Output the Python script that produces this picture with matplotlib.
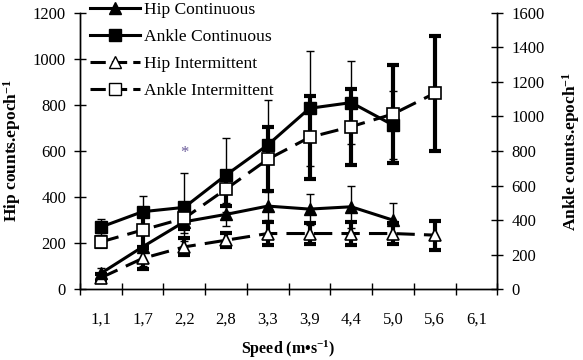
import matplotlib
matplotlib.use("Agg")
import matplotlib.pyplot as plt
from matplotlib.lines import Line2D
import numpy as np

plt.rcParams['font.family'] = ['Liberation Serif', 'DejaVu Serif']
plt.rcParams['mathtext.fontset'] = 'custom'
plt.rcParams['mathtext.rm'] = 'Liberation Serif'
plt.rcParams['mathtext.bf'] = 'Liberation Serif:bold'
plt.rcParams['mathtext.it'] = 'Liberation Serif:italic'

speeds = ["1,1", "1,7", "2,2", "2,8", "3,3", "3,9", "4,4", "5,0", "5,6", "6,1"]

hip_cont = [69, 184, 293, 325, 361, 348, 358, 300]
hip_cont_err = [25, 85, 50, 50, 60, 67, 91, 75]
hip_int = [50, 134, 184, 213, 242, 242, 242, 242, 235]
hip_int_err = [15, 45, 37, 30, 50, 45, 50, 45, 63]
ankle_cont = [360, 449, 474, 661, 835, 1047, 1080, 950]
ankle_cont_err = [45, 92, 197, 216, 260, 333, 242, 196]
ankle_int = [274, 343, 411, 580, 752, 879, 941, 1014, 1134]
ankle_int_err = [30, 100, 60, 100, 185, 241, 220, 285, 334]

fig = plt.figure(figsize=(5.83, 3.60), dpi=100)
ax = fig.add_axes([0.1372, 0.1964, 0.7158, 0.7683])
ax2 = ax.twinx()

dash = (0, (6, 3))
x_hc = np.arange(len(hip_cont))
x_hi = np.arange(len(hip_int))
x_ac = np.arange(len(ankle_cont))
x_ai = np.arange(len(ankle_int))

ax.errorbar(x_hi, hip_int, yerr=hip_int_err, fmt='none', ecolor='black', elinewidth=3, capsize=4, capthick=3, zorder=2)
ax.plot(x_hi, hip_int, color='black', lw=2.2, linestyle=dash, marker='^', ms=8, mfc='white', mec='black', mew=1.2, zorder=3)
ax.errorbar(x_hc, hip_cont, yerr=hip_cont_err, fmt='none', ecolor='black', elinewidth=1, capsize=3, capthick=1, zorder=2)
ax.plot(x_hc, hip_cont, color='black', lw=2.2, linestyle='-', marker='^', ms=8, mfc='black', mec='black', zorder=3)

ax2.errorbar(x_ai, ankle_int, yerr=ankle_int_err, fmt='none', ecolor='black', elinewidth=3, capsize=4, capthick=3, zorder=2)
ax2.plot(x_ai, ankle_int, color='black', lw=2.2, linestyle=dash, marker='s', ms=8, mfc='white', mec='black', mew=1.2, zorder=4)
ax2.errorbar(x_ac, ankle_cont, yerr=ankle_cont_err, fmt='none', ecolor='black', elinewidth=1, capsize=3, capthick=1, zorder=2)
ax2.plot(x_ac, ankle_cont, color='black', lw=2.2, linestyle='-', marker='s', ms=8, mfc='black', mec='black', zorder=3)

ax.text(2, 590, "*", color='#6a5a9a', fontsize=12, ha='center', va='center')

for a in (ax, ax2):
    a.set_xlim(-0.5, 9.5)
    a.spines['top'].set_visible(False)
ax.set_ylim(0, 1200)
ax2.set_ylim(0, 1600)
ax.set_yticks(np.arange(0, 1201, 200))
ax2.set_yticks(np.arange(0, 1601, 200))
ax.set_xticks(np.arange(-0.5, 10, 1))
ax.set_xticklabels([])
ax.set_xticks(np.arange(10), minor=True)
ax.set_xticklabels(speeds, minor=True)
ax.tick_params(axis='x', which='major', direction='inout', length=8, width=1)
ax.tick_params(axis='x', which='minor', length=0, pad=16, labelsize=12)
ax.tick_params(axis='y', direction='inout', length=8, width=1, pad=6, labelsize=12)
ax2.tick_params(axis='y', direction='inout', length=8, width=1, pad=6, labelsize=12)
for a in (ax, ax2):
    for s in a.spines.values():
        s.set_linewidth(1)

ax.set_xlabel(r"Speed (m•s$^{\mathbf{-1}}$)", fontweight='bold', fontsize=11.5, labelpad=8)
ax.set_ylabel(r"Hip counts.epoch$^{\mathbf{-1}}$", fontweight='bold', fontsize=12.5, labelpad=7)
ax2.set_ylabel(r"Ankle counts.epoch$^{\mathbf{-1}}$", fontweight='bold', fontsize=12.5, labelpad=11)

handles = [
    Line2D([], [], color='black', lw=2.2, marker='^', ms=8, mfc='black'),
    Line2D([], [], color='black', lw=2.2, marker='s', ms=8, mfc='black'),
    Line2D([], [], color='black', lw=2.2, linestyle=(0, (5, 2)), marker='^', ms=8, mfc='white', mec='black'),
    Line2D([], [], color='black', lw=2.2, linestyle=(0, (5, 2)), marker='s', ms=8, mfc='white', mec='black'),
]
labels = ["Hip Continuous", "Ankle Continuous", "Hip Intermittent", "Ankle Intermittent"]
leg = fig.legend(handles, labels, loc='upper left', bbox_to_anchor=(0.133, 1.03), frameon=False,
                 fontsize=12.6, handlelength=2.85, handletextpad=0.25, labelspacing=0.62, borderpad=0.2)

fig.savefig("out.png", dpi=100)
